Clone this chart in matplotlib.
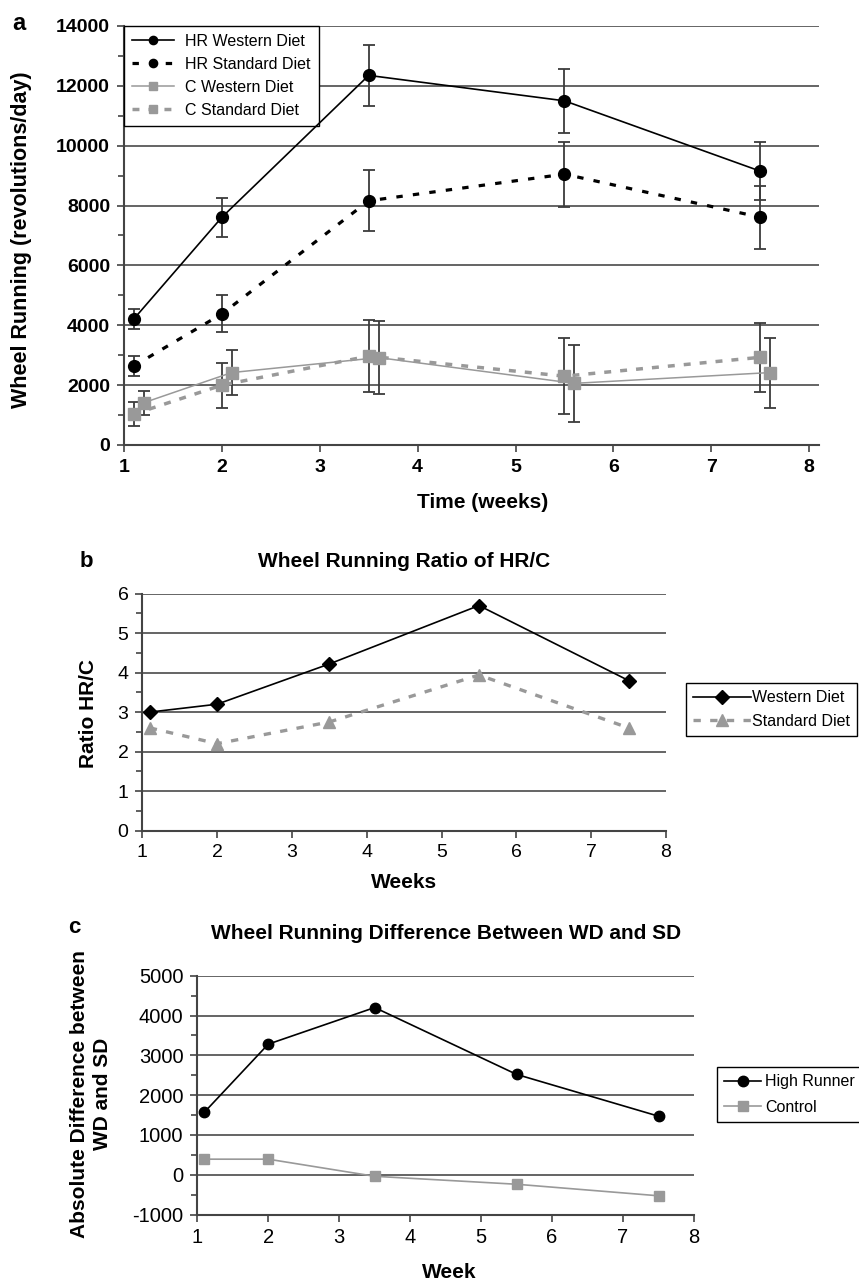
import matplotlib
matplotlib.use("Agg")
from matplotlib import pyplot as plt
from matplotlib.ticker import MultipleLocator

plt.rcParams['font.family'] = ['Liberation Sans', 'DejaVu Sans']
plt.rcParams['axes.unicode_minus'] = False

## data ##
weeks = [1.1, 2, 3.5, 5.5, 7.5]
weeks_c_wd = [1.2, 2.1, 3.6, 5.6, 7.6]

hr_wd = [4210, 7610, 12350, 11500, 9150]
hr_wd_err = [350, 650, 1010, 1060, 980]
hr_sd = [2640, 4380, 8160, 9050, 7610]
hr_sd_err = [350, 620, 1020, 1090, 1050]
c_wd = [1410, 2420, 2920, 2060, 2420]
c_wd_err = [400, 750, 1230, 1290, 1170]
c_sd = [1030, 2000, 2970, 2300, 2930]
c_sd_err = [400, 750, 1210, 1270, 1150]

ratio_wd = [3.0, 3.2, 4.22, 5.7, 3.8]
ratio_sd = [2.6, 2.2, 2.75, 3.94, 2.6]

diff_hr = [1570, 3280, 4200, 2520, 1470]
diff_c = [390, 390, -40, -240, -530]

W, H = 859, 1283
fig = plt.figure(figsize=(W / 100, H / 100), dpi=100)

GRID = '#3a3a3a'
SPINE = '#444444'
GRAY = '#999999'


def rect(x0, x1, y0, y1):
    return [x0 / W, 1 - y1 / H, (x1 - x0) / W, (y1 - y0) / H]


def style_axes(ax, ymajor, yminor, bold=False, size=14):
    ax.yaxis.set_major_locator(MultipleLocator(ymajor))
    ax.yaxis.set_minor_locator(MultipleLocator(yminor))
    ax.xaxis.set_major_locator(MultipleLocator(1))
    ax.grid(axis='y', which='major', color=GRID, linewidth=1.1, zorder=0)
    ax.set_axisbelow(True)
    for s in ['top', 'right']:
        ax.spines[s].set_visible(False)
    for s in ['left', 'bottom']:
        ax.spines[s].set_color(SPINE)
        ax.spines[s].set_linewidth(1.5)
    ax.tick_params(which='both', direction='out', color=SPINE, width=1.2)
    ax.tick_params(which='major', length=5, labelsize=size, pad=5)
    ax.tick_params(which='minor', length=4)
    ax.tick_params(axis='x', which='minor', length=0)
    if bold:
        for lab in ax.get_xticklabels() + ax.get_yticklabels():
            lab.set_fontweight('bold')


## Panel a ##
ax1 = fig.add_axes(rect(124, 819, 26, 445))
ax1.set_xlim(1, 8.1)
ax1.set_ylim(0, 14000)
style_axes(ax1, 2000, 1000, bold=True, size=14)

eb = dict(ecolor='#3c3c3c', elinewidth=1.3, capsize=4, capthick=1.3)
e1 = ax1.errorbar(weeks, hr_wd, yerr=hr_wd_err, color='black', linestyle='-', linewidth=1.2,
                  marker='o', markersize=8.5, zorder=5, **eb)
e2 = ax1.errorbar(weeks, hr_sd, yerr=hr_sd_err, color='black', linestyle=(0, (2, 3.2)), linewidth=2.3,
                  marker='o', markersize=8.5, zorder=5, **eb)
e3 = ax1.errorbar(weeks_c_wd, c_wd, yerr=c_wd_err, color=GRAY, linestyle='-', linewidth=1.1,
                  marker='s', markersize=8.5, zorder=4, **eb)
e4 = ax1.errorbar(weeks, c_sd, yerr=c_sd_err, color=GRAY, linestyle=(0, (2, 2.6)), linewidth=2.5,
                  marker='s', markersize=8.5, zorder=4, **eb)

# legend without the error bars
handles = [e[0] for e in (e1, e2, e3, e4)]
labels = ['HR Western Diet', 'HR Standard Diet', 'C Western Diet', 'C Standard Diet']
leg = ax1.legend(handles, labels, loc='upper left', bbox_to_anchor=(0, 1), borderaxespad=0,
                 fontsize=11.5, handlelength=2.6, handletextpad=0.75, labelspacing=0.5,
                 borderpad=0.5, markerscale=0.7, fancybox=False, edgecolor='black', framealpha=1)
leg.get_frame().set_linewidth(1.0)

fig.text(12 / W, 1 - 30 / H, 'a', fontsize=17, fontweight='bold', ha='left', va='baseline')
fig.text(22 / W, 1 - 240 / H, 'Wheel Running (revolutions/day)', fontsize=15.5, fontweight='bold',
         rotation=90, ha='center', va='center')
fig.text(483 / W, 1 - 508 / H, 'Time (weeks)', fontsize=15, fontweight='bold', ha='center', va='baseline')

## Panel b ##
ax2 = fig.add_axes(rect(142.3, 666, 593.7, 830.5))
ax2.set_xlim(1, 8)
ax2.set_ylim(0, 6)
style_axes(ax2, 1, 0.5, size=14)
ax2.plot(weeks, ratio_wd, color='black', linewidth=1.2, marker='D', markersize=7,
         label='Western Diet', zorder=5)
ax2.plot(weeks, ratio_sd, color=GRAY, linewidth=2.4, linestyle=(0, (2.2, 2.8)), marker='^',
         markersize=9, label='Standard Diet', zorder=4)
leg2 = ax2.legend(loc='upper left', bbox_to_anchor=(686 / W, 1 - 683 / H), bbox_transform=fig.transFigure,
                  borderaxespad=0, fontsize=11.5, handlelength=3.6, handletextpad=0.1,
                  labelspacing=0.55, borderpad=0.45, fancybox=False, edgecolor='black', framealpha=1)
leg2.get_frame().set_linewidth(1.0)

fig.text(80 / W, 1 - 567 / H, 'b', fontsize=16, fontweight='bold', ha='left', va='baseline')
fig.text(404 / W, 1 - 567 / H, 'Wheel Running Ratio of HR/C', fontsize=15, fontweight='bold',
         ha='center', va='baseline')
fig.text(88 / W, 1 - 713 / H, 'Ratio HR/C', fontsize=15, fontweight='bold', rotation=90,
         ha='center', va='center')
fig.text(404 / W, 1 - 888 / H, 'Weeks', fontsize=15, fontweight='bold', ha='center', va='baseline')

## Panel c ##
ax3 = fig.add_axes(rect(197.3, 694, 975.7, 1214.5))
ax3.set_xlim(1, 8)
ax3.set_ylim(-1000, 5000)
style_axes(ax3, 1000, 500, size=14.5)
ax3.plot(weeks, diff_hr, color='black', linewidth=1.2, marker='o', markersize=7.5,
         label='High Runner', zorder=5)
ax3.plot(weeks, diff_c, color=GRAY, linewidth=1.2, marker='s', markersize=7.5,
         label='Control', zorder=4)
leg3 = ax3.legend(loc='upper left', bbox_to_anchor=(717 / W, 1 - 1067 / H), bbox_transform=fig.transFigure,
                  borderaxespad=0, fontsize=11.5, handlelength=2.3, handletextpad=0.25,
                  labelspacing=0.65, borderpad=0.45, fancybox=False, edgecolor='black', framealpha=1)
leg3.get_frame().set_linewidth(1.0)

fig.text(68 / W, 1 - 933 / H, 'c', fontsize=16, fontweight='bold', ha='left', va='baseline')
fig.text(446 / W, 1 - 939 / H, 'Wheel Running Difference Between WD and SD', fontsize=15,
         fontweight='bold', ha='center', va='baseline')
fig.text(91 / W, 1 - 1094 / H, 'Absolute Difference between\nWD and SD', fontsize=15,
         fontweight='bold', rotation=90, ha='center', va='center', linespacing=1.3)
fig.text(449 / W, 1 - 1278 / H, 'Week', fontsize=15, fontweight='bold', ha='center', va='baseline')

fig.savefig('out.png', dpi=100)
